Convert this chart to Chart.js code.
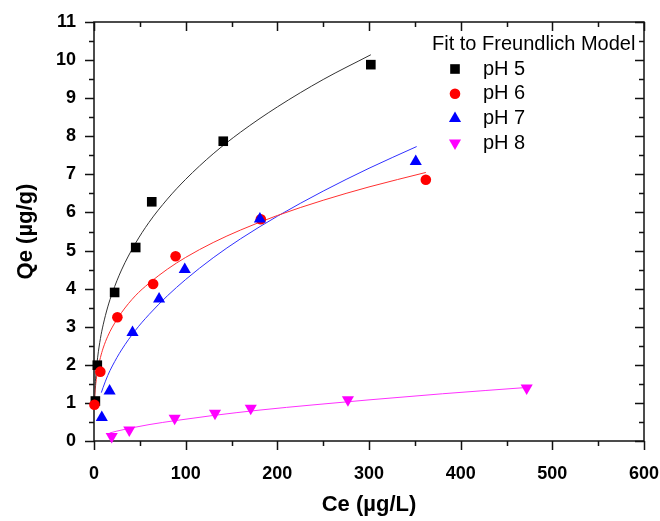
<!DOCTYPE html>
<html>
<head>
<meta charset="utf-8">
<script src="https://cdn.jsdelivr.net/npm/chart.js@4.4.1/dist/chart.umd.min.js"></script>
<style>
  html, body { margin: 0; padding: 0; background: #fff; }
  #wrap { width: 660px; height: 521px; }
</style>
</head>
<body>
<div id="wrap"><canvas id="chart" width="660" height="521"></canvas></div>
<script>
// axis ticks
const xTicks = [0, 100, 200, 300, 400, 500, 600];
const yTicks = [0, 1, 2, 3, 4, 5, 6, 7, 8, 9, 10, 11];

const legendTitle = "Fit to Freundlich Model";
const seriesLabels = ["pH 5", "pH 6", "pH 7", "pH 8"];

// measured points (Ce, Qe)
const ph5Ce = [1.5, 3.6, 22.5, 45.5, 63, 141, 302];
const ph5Qe = [1.05, 1.99, 3.9, 5.08, 6.28, 7.87, 9.88];
const ph6Ce = [0.5, 6.9, 25.5, 64.5, 89, 182, 362];
const ph6Qe = [0.95, 1.82, 3.25, 4.12, 4.85, 5.82, 6.86];
const ph7Ce = [8.5, 17, 42, 71, 99, 181, 351];
const ph7Qe = [0.62, 1.31, 2.85, 3.73, 4.5, 5.83, 7.34];
const ph8Ce = [19.3, 38.5, 88, 132, 171, 277, 472];
const ph8Qe = [0.12, 0.29, 0.6, 0.73, 0.86, 1.08, 1.39];

// fitted curves
const fit5Ce = [0.5, 1, 2, 4, 7, 10, 15, 20, 30, 45, 60, 80, 100, 130, 160, 200, 250, 302];
const fit5Qe = [1.06, 1.35, 1.73, 2.2, 2.69, 3.05, 3.52, 3.89, 4.49, 5.18, 5.74, 6.35, 6.87, 7.54, 8.11, 8.77, 9.49, 10.14];
const fit6Ce = [0.4, 1, 2, 4, 7, 10, 15, 20, 30, 45, 60, 80, 100, 130, 160, 200, 250, 300, 362];
const fit6Qe = [0.94, 1.23, 1.51, 1.86, 2.19, 2.44, 2.75, 2.99, 3.37, 3.81, 4.14, 4.51, 4.82, 5.21, 5.54, 5.92, 6.32, 6.67, 7.05];
const fit7Ce = [8, 10, 15, 20, 30, 45, 60, 80, 100, 130, 160, 200, 250, 300, 352];
const fit7Qe = [1.27, 1.41, 1.72, 1.97, 2.39, 2.9, 3.32, 3.81, 4.24, 4.81, 5.31, 5.9, 6.56, 7.16, 7.73];
const fit8Ce = [17, 25, 40, 60, 90, 130, 180, 240, 300, 380, 475];
const fit8Qe = [0.21, 0.26, 0.34, 0.43, 0.54, 0.67, 0.81, 0.95, 1.08, 1.24, 1.41];

const FONT = "'Liberation Sans', Arial, sans-serif";
Chart.defaults.font.family = FONT;
Chart.defaults.color = "#000";

const pts = (xs, ys) => xs.map((x, i) => ({ x, y: ys[i] }));

function fitSet(xs, ys, color) {
  return {
    isFit: true, data: pts(xs, ys), showLine: true, borderColor: color, borderWidth: 1,
    pointRadius: 0, cubicInterpolationMode: "monotone", order: 10, clip: false
  };
}

function markSet(label, xs, ys, color, style, radius, rotation, order) {
  return {
    label, data: pts(xs, ys), showLine: false, backgroundColor: color, borderColor: color,
    pointBackgroundColor: color, pointBorderWidth: 0, pointStyle: style, pointRadius: radius,
    pointRotation: rotation, order, clip: false
  };
}

const frame = {
  id: "frame",
  beforeDatasetsDraw(chart) {
    const { ctx, chartArea: a, scales: { x, y } } = chart;
    const MAJ = 9, MIN = 5;
    ctx.save();
    ctx.strokeStyle = "#111";
    ctx.lineWidth = 1.5;
    ctx.strokeRect(a.left, a.top, a.right - a.left, a.bottom - a.top);
    ctx.beginPath();
    xTicks.forEach((v, i) => {
      const marks = [[v, MAJ]];
      if (i < xTicks.length - 1) marks.push([(v + xTicks[i + 1]) / 2, MIN]);
      marks.forEach(([val, len]) => {
        const p = Math.round(x.getPixelForValue(val)) + 0.5;
        ctx.moveTo(p, a.bottom); ctx.lineTo(p, a.bottom + len);
        ctx.moveTo(p, a.top); ctx.lineTo(p, a.top + len);
      });
    });
    yTicks.forEach((v, i) => {
      const marks = [[v, MAJ]];
      if (i < yTicks.length - 1) marks.push([(v + yTicks[i + 1]) / 2, MIN]);
      marks.forEach(([val, len]) => {
        const p = Math.round(y.getPixelForValue(val)) + 0.5;
        ctx.moveTo(a.left, p); ctx.lineTo(a.left - len, p);
        ctx.moveTo(a.right, p); ctx.lineTo(a.right - len, p);
      });
    });
    ctx.stroke();
    ctx.restore();
  }
};

const legendBox = {
  id: "legendBox",
  afterDraw(chart) {
    const { ctx } = chart;
    ctx.save();
    ctx.font = "20px " + FONT;
    ctx.textBaseline = "middle";
    ctx.fillStyle = "#000";
    ctx.fillText(legendTitle, 432, 44);
    chart.data.datasets.filter(d => !d.isFit).forEach((d, i) => {
      const yy = 69 + i * 24.7;
      ctx.fillStyle = d.pointBackgroundColor;
      Chart.helpers.drawPoint(ctx, {
        pointStyle: d.pointStyle, radius: d.pointRadius, rotation: d.pointRotation, borderWidth: 0
      }, 455, yy);
      ctx.fillStyle = "#000";
      ctx.fillText(d.label, 483, yy);
    });
    ctx.restore();
  }
};

new Chart(document.getElementById("chart"), {
  type: "scatter",
  data: {
    datasets: [
      fitSet(fit5Ce, fit5Qe, "#333333"),
      fitSet(fit6Ce, fit6Qe, "#ff3030"),
      fitSet(fit7Ce, fit7Qe, "#3030ff"),
      fitSet(fit8Ce, fit8Qe, "#ff30ff"),
      markSet(seriesLabels[0], ph5Ce, ph5Qe, "#000000", "rect", 6.8, 0, 4),
      markSet(seriesLabels[1], ph6Ce, ph6Qe, "#ff0000", "circle", 5.3, 0, 3),
      markSet(seriesLabels[2], ph7Ce, ph7Qe, "#0000ff", "triangle", 7, 0, 2),
      markSet(seriesLabels[3], ph8Ce, ph8Qe, "#ff00ff", "triangle", 7, 180, 1)
    ]
  },
  options: {
    responsive: false,
    animation: false,
    layout: { padding: { top: 22, right: 16, left: 0, bottom: 0 } },
    plugins: { legend: { display: false }, tooltip: { enabled: false } },
    scales: {
      x: {
        type: "linear", min: 0, max: 600,
        afterBuildTicks: s => { s.ticks = xTicks.map(value => ({ value })); },
        afterFit: s => { s.height = 80; s.paddingLeft = 0; s.paddingRight = 0; },
        grid: { display: false, drawTicks: false },
        border: { display: false },
        ticks: { padding: 22, font: { size: 18, weight: "bold" }, color: "#000" },
        title: { display: true, text: "Ce (µg/L)", font: { size: 22, weight: "bold" }, padding: { top: 0, bottom: 3 }, color: "#000" }
      },
      y: {
        type: "linear", min: 0, max: 11,
        afterBuildTicks: s => { s.ticks = yTicks.map(value => ({ value })); },
        afterFit: s => { s.width = 94; s.paddingTop = 0; s.paddingBottom = 0; },
        grid: { display: false, drawTicks: false },
        border: { display: false },
        ticks: { padding: 18, font: { size: 18, weight: "bold" }, color: "#000" },
        title: { display: true, text: "Qe (µg/g)", font: { size: 22, weight: "bold" }, padding: { top: 13, bottom: 0 }, color: "#000" }
      }
    }
  },
  plugins: [frame, legendBox]
});
</script>
</body>
</html>
